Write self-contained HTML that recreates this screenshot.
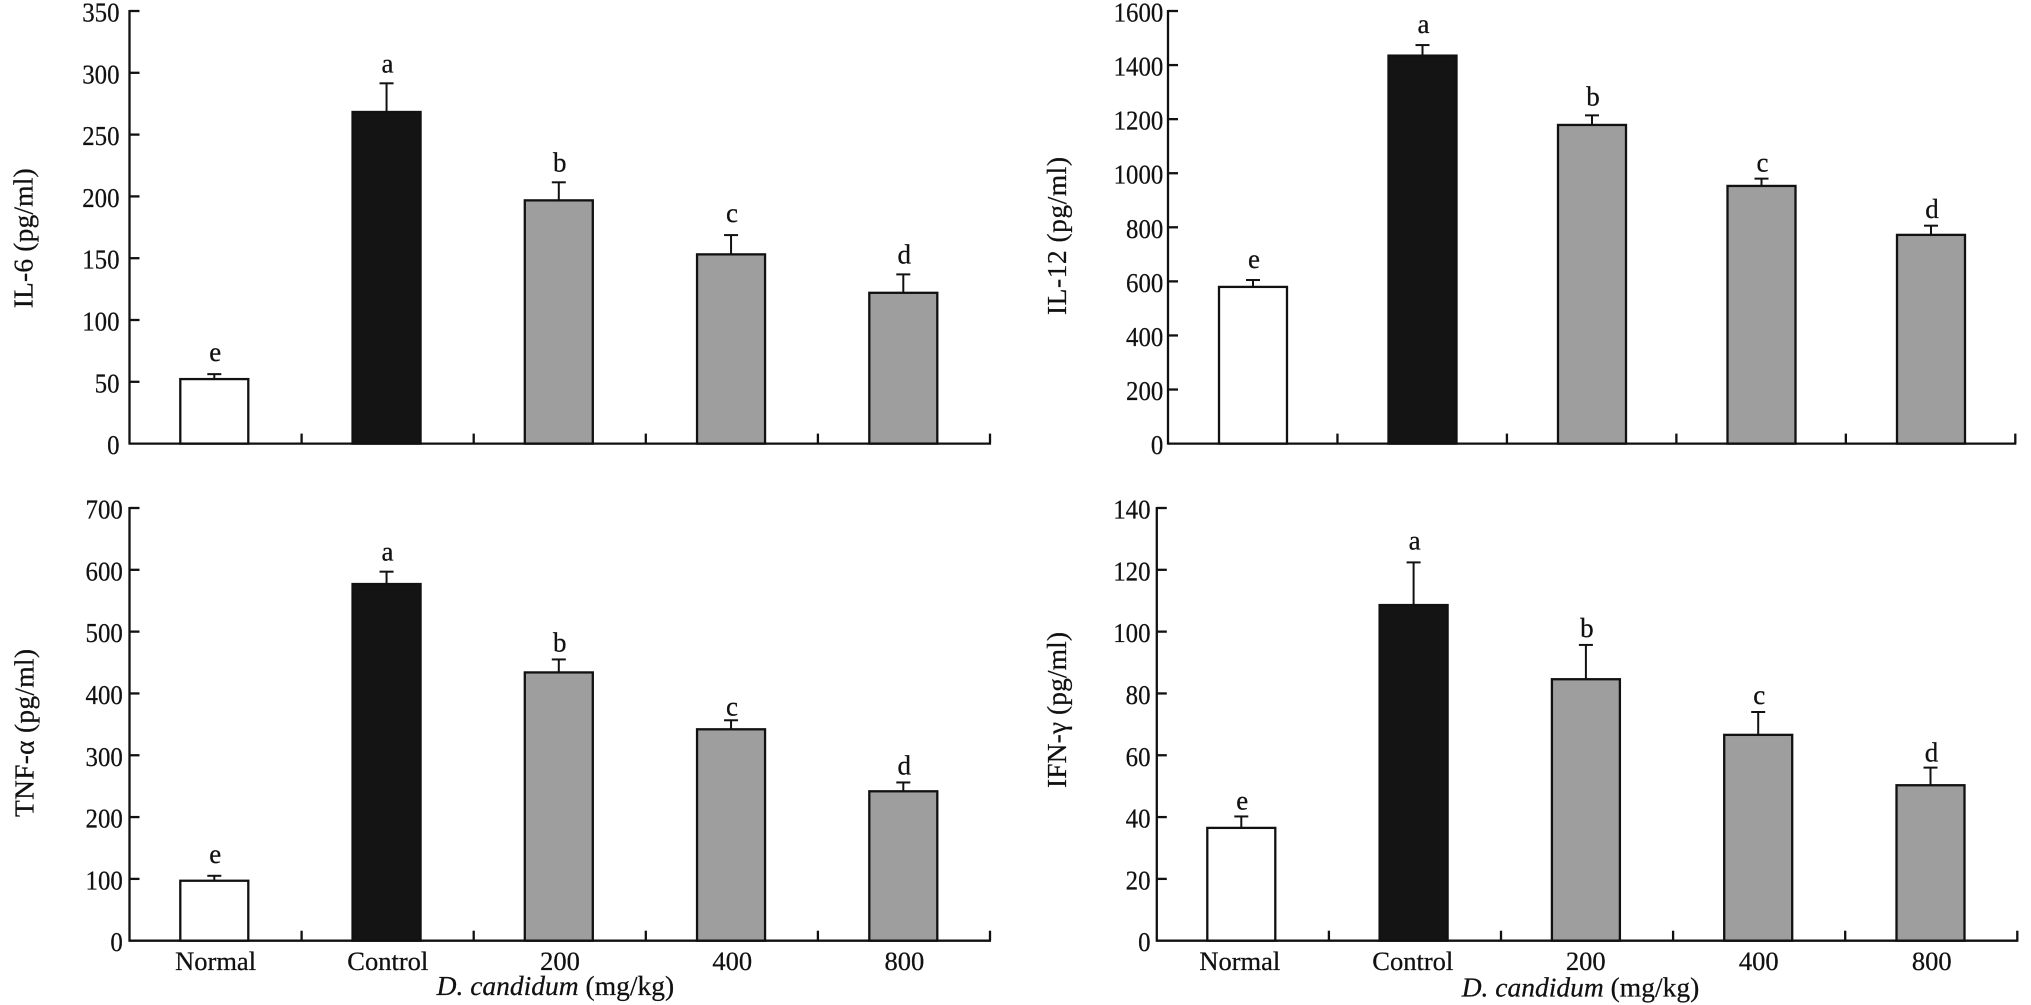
<!DOCTYPE html>
<html lang="en">
<head>
<meta charset="utf-8">
<title>Cytokine levels by D. candidum dose</title>
<style>
  html, body { margin: 0; padding: 0; background: #fff; }
  svg { display: block; }
  text { font-family: "Liberation Serif", "Times New Roman", serif; fill: #111; stroke: #111; stroke-width: 0.25; }
</style>
</head>
<body>
<svg id="figure" xmlns="http://www.w3.org/2000/svg" width="2031" height="1005" viewBox="0 0 2031 1005"></svg>
<script>
// ---- Data ----
const categories = ["Normal", "Control", "200", "400", "800"];
const letters = ["e", "a", "b", "c", "d"];

const il6Values = [52.2, 268.3, 196.8, 153.1, 122];
const il6Errors = [4, 23.2, 14.6, 15.6, 14.9];
const il6Ticks = [0, 50, 100, 150, 200, 250, 300, 350];

const il12Values = [579.5, 1435, 1178.6, 953, 772];
const il12Errors = [25.5, 39, 35.4, 27, 34];
const il12Ticks = [0, 200, 400, 600, 800, 1000, 1200, 1400, 1600];

const tnfValues = [97, 577, 434, 342, 241.7];
const tnfErrors = [8, 20, 21, 14.6, 14.3];
const tnfTicks = [0, 100, 200, 300, 400, 500, 600, 700];

const ifnValues = [36.5, 108.6, 84.6, 66.6, 50.3];
const ifnErrors = [3.7, 13.8, 11.1, 7.4, 5.7];
const ifnTicks = [0, 20, 40, 60, 80, 100, 120, 140];

// ---- Layout of each panel ----
const panels = [
  { id: "il6", title: "IL-6 (pg/ml)", values: il6Values, errors: il6Errors, ticks: il6Ticks,
    x0: 129.5, x1: 990, yTop: 11, yBase: 443.6, tickRight: 119.5, barStart: 214.3, barStep: 172.25,
    titleX: 32.7, titleY: 238.3, titleLen: 140, gaps: [13, 11, 10.6, 13, 11], xLabels: false },
  { id: "il12", title: "IL-12 (pg/ml)", values: il12Values, errors: il12Errors, ticks: il12Ticks,
    x0: 1168, x1: 2015.3, yTop: 11, yBase: 443.6, tickRight: 1163.3, barStart: 1253, barStep: 169.5,
    titleX: 1066, titleY: 236, titleLen: 158, gaps: [12, 12, 10, 7, 7.5], xLabels: false },
  { id: "tnf", title: "TNF-α (pg/ml)", values: tnfValues, errors: tnfErrors, ticks: tnfTicks,
    x0: 129.5, x1: 990, yTop: 508, yBase: 940.7, tickRight: 122.8, barStart: 214.3, barStep: 172.25,
    titleX: 33.5, titleY: 733, titleLen: 168, gaps: [13, 11, 8, 5, 8], xLabels: true,
    xTitleX: 436.6, xTitleY: 995, labelStart: 215.6, labelStep: 172.2 },
  { id: "ifn", title: "IFN-γ (pg/ml)", values: ifnValues, errors: ifnErrors, ticks: ifnTicks,
    x0: 1156.8, x1: 2017.3, yTop: 508, yBase: 940.7, tickRight: 1150.5, barStart: 1241.3, barStep: 172.3,
    titleX: 1066, titleY: 710, titleLen: 156, gaps: [7, 12.7, 8, 8, 6], xLabels: true,
    xTitleX: 1461.7, xTitleY: 996.5, labelStart: 1239.8, labelStep: 173 }
];

const barFills = ["#ffffff", "#141414", "#9e9e9e", "#9e9e9e", "#9e9e9e"];
const INK = "#111";
const NS = "http://www.w3.org/2000/svg";
const svg = document.getElementById("figure");

function make(tag, attrs, parent) {
  const el = document.createElementNS(NS, tag);
  for (const k in attrs) el.setAttribute(k, attrs[k]);
  parent.appendChild(el);
  return el;
}

panels.forEach(function (p) {
  const yMax = p.ticks[p.ticks.length - 1];
  const yScale = function (v) { return p.yBase - (v / yMax) * (p.yBase - p.yTop); };
  const step = (p.x1 - p.x0) / categories.length;
  const xCenter = function (i) { return p.barStart + p.barStep * i; };
  const xEdge = function (i) { return p.x0 + step * i; };

  const g = make("g", {}, svg);
  
  

  // bars
  p.values.forEach(function (v, i) {
    const top = yScale(v);
    const bar = make("rect", {
      x: xCenter(i) - 34, y: top, width: 68, height: p.yBase - top,
      fill: barFills[i], stroke: INK, "stroke-width": 2.3
    }, g);
    
    

    // error bar
    const capY = yScale(v + p.errors[i]);
    const stem = make("line", {
      x1: xCenter(i), x2: xCenter(i), y1: top, y2: capY,
      stroke: INK, "stroke-width": 2
    }, g);
    
    
    const cap = make("line", {
      x1: xCenter(i) - 7, x2: xCenter(i) + 7, y1: capY, y2: capY,
      stroke: INK, "stroke-width": 2
    }, g);
    
    

    // significance letter
    const letter = make("text", {
      x: xCenter(i) + 1, y: capY - p.gaps[i], "font-size": 27, "text-anchor": "middle"
    }, g);
    letter.textContent = letters[i];
    
    
  });

  // axes
  const yAxis = make("line", {
    x1: p.x0, x2: p.x0, y1: p.yTop - 1, y2: p.yBase + 1, stroke: INK, "stroke-width": 2.3
  }, g);
  
  
  const xAxis = make("line", {
    x1: p.x0, x2: p.x1 + 1, y1: p.yBase, y2: p.yBase, stroke: INK, "stroke-width": 2.3
  }, g);
  
  

  // y ticks + labels
  p.ticks.forEach(function (t) {
    const y = yScale(t);
    if (t !== 0) {
      const tick = make("line", {
        x1: p.x0, x2: p.x0 + 10, y1: y, y2: y, stroke: INK, "stroke-width": 2.3
      }, g);
      
      
    }
    const label = make("text", {
      transform: "translate(" + p.tickRight + "," + (y + 10.5) + ") scale(0.92,1)",
      "font-size": 27, "text-anchor": "end"
    }, g);
    label.textContent = String(t);
    
    
  });

  // x ticks (between categories and at the end)
  categories.forEach(function (c, i) {
    const x = xEdge(i + 1);
    const tick = make("line", {
      x1: x, x2: x, y1: p.yBase - 10, y2: p.yBase, stroke: INK, "stroke-width": 2.3
    }, g);
    
    
  });

  // y title
  const title = make("text", {
    transform: "translate(" + p.titleX + "," + p.titleY + ") rotate(-90)",
    "font-size": 27.5, "text-anchor": "middle",
    textLength: p.titleLen, lengthAdjust: "spacing"
  }, g);
  title.textContent = p.title;
  
  

  // category labels and x title for bottom row
  if (p.xLabels) {
    categories.forEach(function (c, i) {
      const label = make("text", {
        x: p.labelStart + p.labelStep * i, y: 969.8, "font-size": 26.5, "text-anchor": "middle"
      }, g);
      label.textContent = c;
      
      
    });
    const xt = make("text", {
      x: p.xTitleX, y: p.xTitleY, "font-size": 27.5
    }, g);
    
    
    const it = make("tspan", { "font-style": "italic" }, xt);
    it.textContent = "D. candidum";
    const rest = make("tspan", {}, xt);
    rest.textContent = " (mg/kg)";
  }
});
</script>
</body>
</html>
